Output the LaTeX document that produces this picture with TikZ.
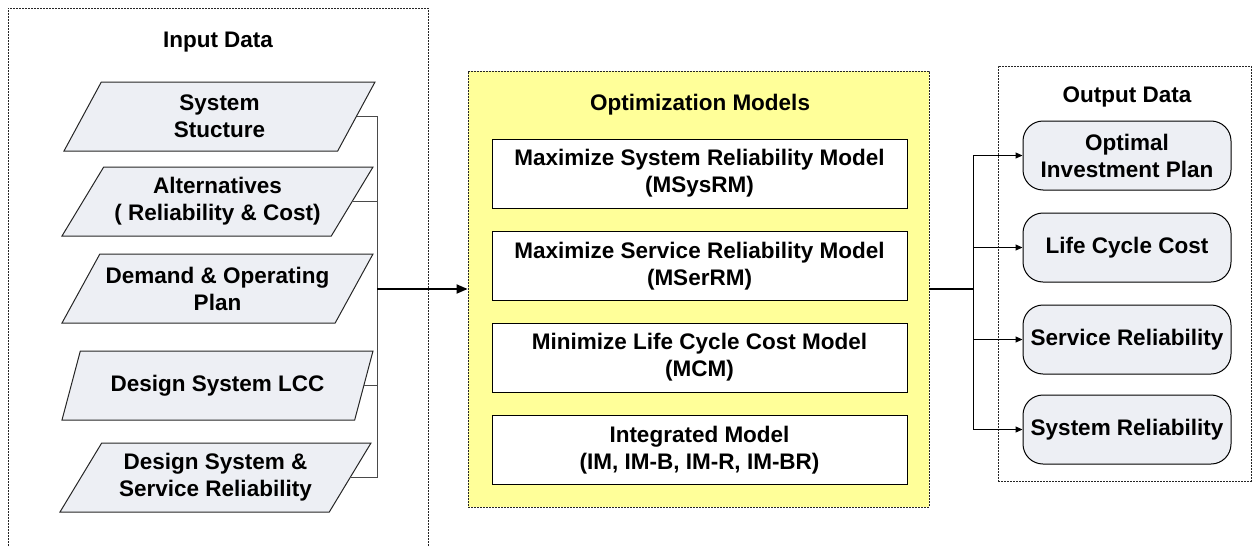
\documentclass[tikz,border=0pt]{standalone}
\usepackage{fontspec}
\setmainfont{Liberation Sans}
\usetikzlibrary{arrows.meta,positioning,shapes.geometric}
\definecolor{ModelYellow}{HTML}{FFFF99}
\definecolor{DataFill}{HTML}{EDEFF4}
\definecolor{BusGray}{HTML}{4A4A4A}

\begin{document}
\begin{tikzpicture}[x=1pt,y=-1pt,
  lbl/.style={font=\fontsize{22.5}{27}\selectfont\bfseries,align=center},
  frame/.style={draw=black!85,line width=0.8pt,dash pattern=on 2pt off 1pt},
  indata/.style={lbl,trapezium,trapezium left angle=49,trapezium right angle=131,
    trapezium stretches body=true,draw=black!85,line width=1pt,fill=DataFill,
    minimum width=311,minimum height=69,inner sep=0pt},
  model/.style={lbl,draw,line width=1pt,fill=white,minimum width=415,minimum height=69,inner sep=0pt},
  outdata/.style={lbl,draw,line width=1pt,fill=DataFill,rounded corners=20pt,
    minimum width=208,minimum height=69,inner sep=0pt},
  feed/.style={BusGray,line width=1pt},
  mainarr/.style={-{Triangle[length=11pt,width=9pt]},line width=1.8pt},
  outarr/.style={-{Triangle[length=7pt,width=6pt]},line width=1pt},
]
\useasboundingbox (0,0) rectangle (1252,546);

% input side (frame runs off the bottom)
\draw[frame] (8,546) -- (8,8) -- (428,8) -- (428,546);
\node[lbl] (intitle) at (218,42) {Input Data};
\node[indata] (struct) at (219.5,116.5) {System\\Stucture};
\node[indata] (alt)    at (217.5,201.5) {Alternatives\\( Reliability \& Cost)};
\node[indata] (demand) at (217.5,288.5) {Demand \& Operating\\Plan};
\node[indata] (lcc)    at (217.5,385.5) {Design System LCC};
\node[indata] (srel)   at (215.5,477.5) {Design System \&\\Service Reliability};

% optimization block
\node[frame,fill=ModelYellow,minimum width=461,minimum height=436,inner sep=0pt] (opt) at (698.5,289) {};
\node[lbl] (opttitle) at (700,105) {Optimization Models};
\node[model] (msys) at (699.5,173.5) {Maximize System Reliability Model\\(MSysRM)};
\node[model] (mser) at (699.5,266)   {Maximize Service Reliability Model\\(MSerRM)};
\node[model] (mcm)  at (699.5,357.5) {Minimize Life Cycle Cost Model\\(MCM)};
\node[model] (im)   at (699.5,450)   {Integrated Model\\(IM, IM-B, IM-R, IM-BR)};

% output side
\node[frame,minimum width=253,minimum height=415,inner sep=0pt] (outbox) at (1124.5,273.5) {};
\node[lbl] (outtitle) at (1127,97) {Output Data};
\node[outdata] (plan) at (1127,155.5) {Optimal\\Investment Plan};
\node[outdata] (lcost) at (1127,247.5) {Life Cycle Cost};
\node[outdata] (servr) at (1127,339.5) {Service Reliability};
\node[outdata] (sysr) at (1127,429.5) {System Reliability};

% collecting bus on the left
\coordinate (lbus) at (377,289);
\foreach \n in {struct,alt,lcc,srel}
  \draw[feed] (\n.right side) -| (lbus);
\draw[mainarr] (lbus) -- (opt.west);

% distributing bus on the right
\coordinate (rbus) at (973,289);
\draw[line width=1.8pt] (opt.east) -- (rbus);
\foreach \n in {plan,lcost,servr,sysr}
  \draw[outarr] (rbus) |- (\n.west);
\end{tikzpicture}
\end{document}
